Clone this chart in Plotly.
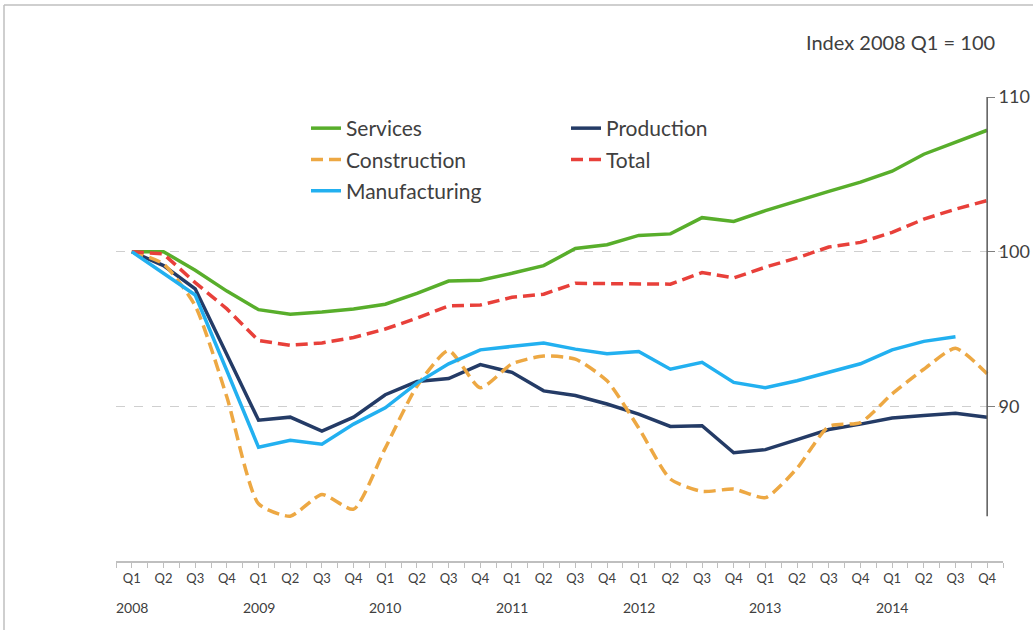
import plotly.graph_objects as go

quarters = ["Q1", "Q2", "Q3", "Q4"] * 7
years = ["2008", "2009", "2010", "2011", "2012", "2013", "2014"]

services = [100, 100, 98.8, 97.45, 96.25, 95.95, 96.1, 96.3, 96.6, 97.3, 98.1, 98.15,
            98.6, 99.1, 100.2, 100.45, 101.05, 101.15, 102.2, 101.95, 102.65, 103.3,
            103.9, 104.5, 105.2, 106.3, 107.1, 107.85]
production = [100, 99.1, 97.6, 93.4, 89.1, 89.3, 88.4, 89.3, 90.75, 91.6, 91.8, 92.7,
              92.2, 91.0, 90.7, 90.15, 89.5, 88.7, 88.75, 87.0, 87.2, 87.85, 88.5,
              88.85, 89.25, 89.4, 89.55, 89.3]
construction = [100, 99.2, 96.5, 90.6, 83.7, 82.9, 84.3, 83.35, 87.3, 91.3, 93.6, 91.2,
                92.75, 93.25, 93.05, 91.65, 88.6, 85.3, 84.5, 84.65, 84.1, 86.0, 88.7,
                88.95, 90.8, 92.4, 93.75, 92.1]
total = [100, 99.85, 98.0, 96.3, 94.25, 93.95, 94.1, 94.45, 95.0, 95.7, 96.5, 96.55,
         97.05, 97.25, 97.95, 97.95, 97.95, 97.9, 98.65, 98.3, 99.0, 99.6, 100.3, 100.6,
         101.25, 102.1, 102.75, 103.3]
manufacturing = [100, 98.6, 97.2, 92.3, 87.35, 87.8, 87.55, 88.85, 89.9, 91.5, 92.75,
                 93.65, 93.9, 94.1, 93.7, 93.4, 93.55, 92.4, 92.85, 91.55, 91.2, 91.65,
                 92.2, 92.75, 93.65, 94.2, 94.5, None]

y_ticks = [90, 100, 110]

x = list(range(len(quarters)))
FONT = "Lato"
TXT = "#404040"

# plot area geometry in pixels (for paper-coordinate conversions)
L, R, T, B = 116, 1003, 97, 561
def px(xp):
    return (xp - L) / (R - L)
def py(yp):
    return (B - yp) / (B - T)

fig = go.Figure()
series = [
    ("Services", services, "#58AE2B", "solid", "legend", "linear"),
    ("Production", production, "#243B66", "solid", "legend2", "linear"),
    ("Construction", construction, "#EDA843", "12px,6px", "legend", "spline"),
    ("Total", total, "#E8403A", "12px,6px", "legend2", "linear"),
    ("Manufacturing", manufacturing, "#22B0F0", "solid", "legend", "linear"),
]
for name, vals, col, dash, leg, shape in series:
    fig.add_trace(go.Scatter(
        x=x, y=vals, name=name, mode="lines",
        line=dict(color=col, width=3.5, dash=dash, shape=shape,
                  smoothing=0.6 if shape == "spline" else None),
        legend=leg, legendgroup=name, connectgaps=False,
    ))

legend_common = dict(
    font=dict(family=FONT, size=21, color=TXT),
    bgcolor="rgba(0,0,0,0)", tracegroupgap=1,
    orientation="v", xanchor="left", yanchor="top",
)
fig.update_layout(
    width=1033, height=630, autosize=False,
    margin=dict(l=L, r=1033 - R, t=T, b=630 - B, autoexpand=False),
    plot_bgcolor="white", paper_bgcolor="white",
    font=dict(family=FONT, color=TXT),
    legend=dict(x=px(306), y=py(108), **legend_common),
    legend2=dict(x=px(566), y=py(108), **legend_common),
    showlegend=True,
)
fig.update_xaxes(
    range=[-0.5, 27.5], tickmode="array", tickvals=x, ticktext=quarters,
    ticks="outside", ticklen=5, tickcolor="#BFBFBF", tickwidth=1,
    minor=dict(ticks="outside", tick0=-0.5, dtick=1, ticklen=5, tickcolor="#BFBFBF"),
    showline=True, linecolor="#BFBFBF", linewidth=1.5,
    showgrid=False, zeroline=False, automargin=False,
    tickfont=dict(family=FONT, size=13, color=TXT),
)
fig.update_yaxes(
    range=[80, 110], side="right", anchor="free", position=px(987),
    tickmode="array", tickvals=y_ticks,
    showgrid=True, gridcolor="#CFCFCF", griddash="dash", gridwidth=1,
    showline=False, zeroline=False, ticks="outside", ticklen=7,
    tickcolor="#7F7F7F", tickwidth=1, automargin=False,
    tickfont=dict(family=FONT, size=18, color=TXT),
)
# vertical value axis line at last category
fig.add_shape(type="line", xref="x", yref="y", x0=x[-1], x1=x[-1], y0=82.9, y1=110,
              line=dict(color="#595959", width=1.5))
# outer frame (top and left)
fig.add_shape(type="line", xref="paper", yref="paper", x0=px(4), x1=px(1040),
              y0=py(5), y1=py(5), line=dict(color="#BFBFBF", width=1.5))
fig.add_shape(type="line", xref="paper", yref="paper", x0=px(4), x1=px(4),
              y0=py(5), y1=py(640), line=dict(color="#BFBFBF", width=1.5))

for i, yr in enumerate(years):
    fig.add_annotation(x=4 * i, y=py(607), xref="x", yref="paper", text=yr,
                       showarrow=False, xanchor="center", yanchor="middle",
                       font=dict(family=FONT, size=14, color=TXT))
fig.add_annotation(x=px(997), y=py(42), xref="paper", yref="paper",
                   text="Index 2008 Q1 = 100", showarrow=False,
                   xanchor="right", yanchor="middle",
                   font=dict(family=FONT, size=20, color=TXT))

fig.write_html("out.html", config={"displayModeBar": False},
               post_script="document.body.style.margin='0';")
